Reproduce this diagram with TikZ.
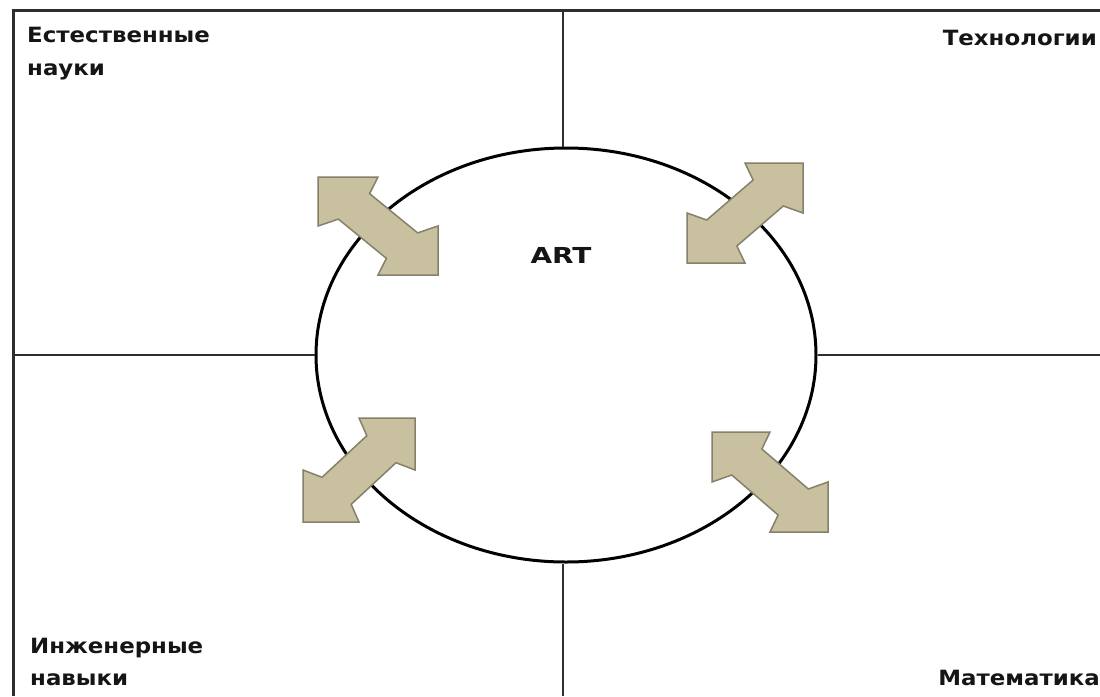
\documentclass[tikz,border=0pt]{standalone}
\usepackage{fontspec}
\setmainfont{DejaVu Sans}
\usetikzlibrary{shapes.geometric}
\definecolor{arrowfill}{HTML}{C9C0A0}
\definecolor{arrowline}{HTML}{85806A}
\definecolor{divline}{HTML}{2E2E2E}
\definecolor{txt}{HTML}{151515}
\newcommand{\dblarrowshape}{%
  (0,0) -- (0.5,0) -- (0.43,0.17) -- (0.83,0.57) -- (1,0.5) -- (1,1) --
  (0.5,1) -- (0.57,0.83) -- (0.17,0.43) -- (0,0.5) -- cycle}
\newcommand{\widetext}[2]{\scalebox{#1}[1]{#2}}
\begin{document}
\begin{tikzpicture}[x=1pt,y=-1pt,
  frameline/.style={draw=divline,line width=3pt},
  divider/.style={draw=divline,line width=2.4pt},
  ringline/.style={draw=black,line width=3pt},
  blockarrow/.style={fill=arrowfill,draw=arrowline,line width=1.5pt,line join=miter},
  label/.style={font=\bfseries\fontsize{21}{25}\selectfont,text=txt,inner sep=0pt},
  arttext/.style={font=\bfseries\fontsize{22}{26}\selectfont,text=txt,inner sep=0pt}]
\useasboundingbox (0,0) rectangle (1100,696);
\fill[white] (0,0) rectangle (1100,696);
% frame
\draw[frameline] (13,696) -- (13,10) -- (1100,10);
% ellipse
\node[ringline,ellipse,minimum width=500pt,minimum height=414pt,inner sep=0pt] (ring) at (566,355) {};
% dividers
\coordinate (topmid) at (563,10);
\coordinate (botmid) at (563,696);
\coordinate (leftmid) at (13,355);
\coordinate (rightmid) at (1100,355);
\draw[divider] (topmid) -- (ring.north -| topmid);
\draw[divider] (botmid) -- (ring.south -| botmid);
\draw[divider] (leftmid) -- (ring.west);
\draw[divider] (rightmid) -- (ring.east);
% arrows
\begin{scope}[shift={(318,177)},xscale=120,yscale=98]
  \draw[blockarrow] \dblarrowshape;
\end{scope}
\begin{scope}[shift={(803,163)},xscale=-116,yscale=100]
  \draw[blockarrow] \dblarrowshape;
\end{scope}
\begin{scope}[shift={(415,418)},xscale=-112,yscale=104]
  \draw[blockarrow] \dblarrowshape;
\end{scope}
\begin{scope}[shift={(712,432)},xscale=116,yscale=100]
  \draw[blockarrow] \dblarrowshape;
\end{scope}
% texts
\node[label,anchor=base west] (nat1) at (27,42) {\widetext{1.09}{Естественные}};
\node[label,anchor=base west] (nat2) at (27,75) {\widetext{1.09}{науки}};
\node[label,anchor=base east] (tech) at (1097,45) {\widetext{1.09}{Технологии}};
\node[label,anchor=base west] (eng1) at (30,653) {\widetext{1.09}{Инженерные}};
\node[label,anchor=base west] (eng2) at (30,685) {\widetext{1.09}{навыки}};
\node[label,anchor=base east] (math) at (1100,685) {\widetext{1.09}{Математика}};
\node[arttext,anchor=base] (art) at (561,263) {\widetext{1.27}{ART}};
\end{tikzpicture}
\end{document}
